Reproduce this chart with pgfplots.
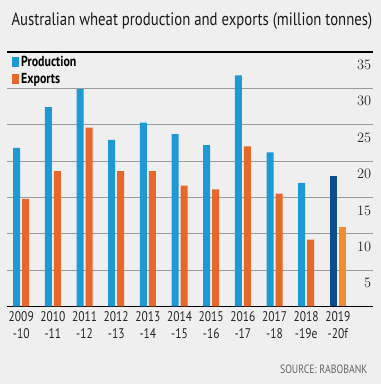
\documentclass[border=0pt]{standalone}
\usepackage{pgfplots}
\pgfplotsset{compat=1.18}
\usepackage{fontspec}
\setmainfont[FakeStretch=0.82]{PT Sans}
\definecolor{bgc}{HTML}{EFEFEF}
\definecolor{pblue}{HTML}{1B9AD6}
\definecolor{eorange}{HTML}{E8672A}
\definecolor{navy}{HTML}{0D4E8A}
\definecolor{lorange}{HTML}{F28C30}
\definecolor{gridc}{HTML}{9A9A9A}
\begin{document}
\begin{tikzpicture}
\path[fill=bgc, use as bounding box] (-7pt,-77.6pt) rectangle (374pt,306.4pt);
\begin{axis}[
  at={(0pt,0pt)}, anchor=south west,
  scale only axis, width=365.7pt, height=254.4pt,
  xmin=-0.45, xmax=11.1, ymin=0, ymax=35,
  axis line style={draw=none},
  major tick length=0pt,
  tick style={draw=none},
  ymajorgrids,
  grid style={gridc, line width=1pt},
  ytick={5,10,15,20,25,30,35},
  extra y ticks={0,35},
  extra y tick labels={},
  extra y tick style={grid style={black, line width=1.2pt}},
  yticklabel pos=right,
  yticklabel style={anchor=east, yshift=-13pt, xshift=2pt, font=\fontsize{13.5}{16}\selectfont, text=black!85},
  xtick={0,1,2,3,4,5,6,7,8,9,10},
  xticklabels={{2009\\-10},{2010\\-11},{2011\\-12},{2012\\-13},{2013\\-14},{2014\\-15},{2015\\-16},{2016\\-17},{2017\\-18},{2018\\-19e},{2019\\-20f}},
  xticklabel style={align=center, font=\fontsize{14}{17}\selectfont, text=black!85, yshift=-2pt},
  ybar, bar width=7pt,
  legend style={at={(axis description cs:0,1)}, anchor=north west, draw=none, fill=none,
    font=\fontsize{14.5}{16}\bfseries\selectfont, xshift=2pt, yshift=0pt, row sep=1.5pt},
  legend cell align=left,
  legend image code/.code={\fill[#1] (0pt,-5pt) rectangle (7pt,5pt);},
]
\addplot[fill=pblue, draw=none, bar shift=-4.5pt] coordinates {
 (0,21.8) (1,27.4) (2,29.9) (3,22.9) (4,25.3) (5,23.7) (6,22.2) (7,31.8) (8,21.2) (9,17.0)};
\addlegendentry{Production}
\addplot[fill=eorange, draw=none, bar shift=4.5pt] coordinates {
 (0,14.8) (1,18.6) (2,24.6) (3,18.6) (4,18.6) (5,16.6) (6,16.1) (7,22.0) (8,15.5) (9,9.2)};
\addlegendentry{Exports}
\addplot[fill=navy, draw=none, bar shift=-4.5pt, forget plot] coordinates {(10,18.0)};
\addplot[fill=lorange, draw=none, bar shift=4.5pt, forget plot] coordinates {(10,10.9)};
\end{axis}
\node[anchor=west, font=\fontsize{18}{20}\selectfont, text=black!90] at (1pt,285.4pt) {Australian wheat production and exports (million tonnes)};
\node[anchor=east, font=\fontsize{12}{14}\selectfont, text=black!60] at (364pt,-62.6pt) {SOURCE: RABOBANK};
\end{tikzpicture}
\end{document}
